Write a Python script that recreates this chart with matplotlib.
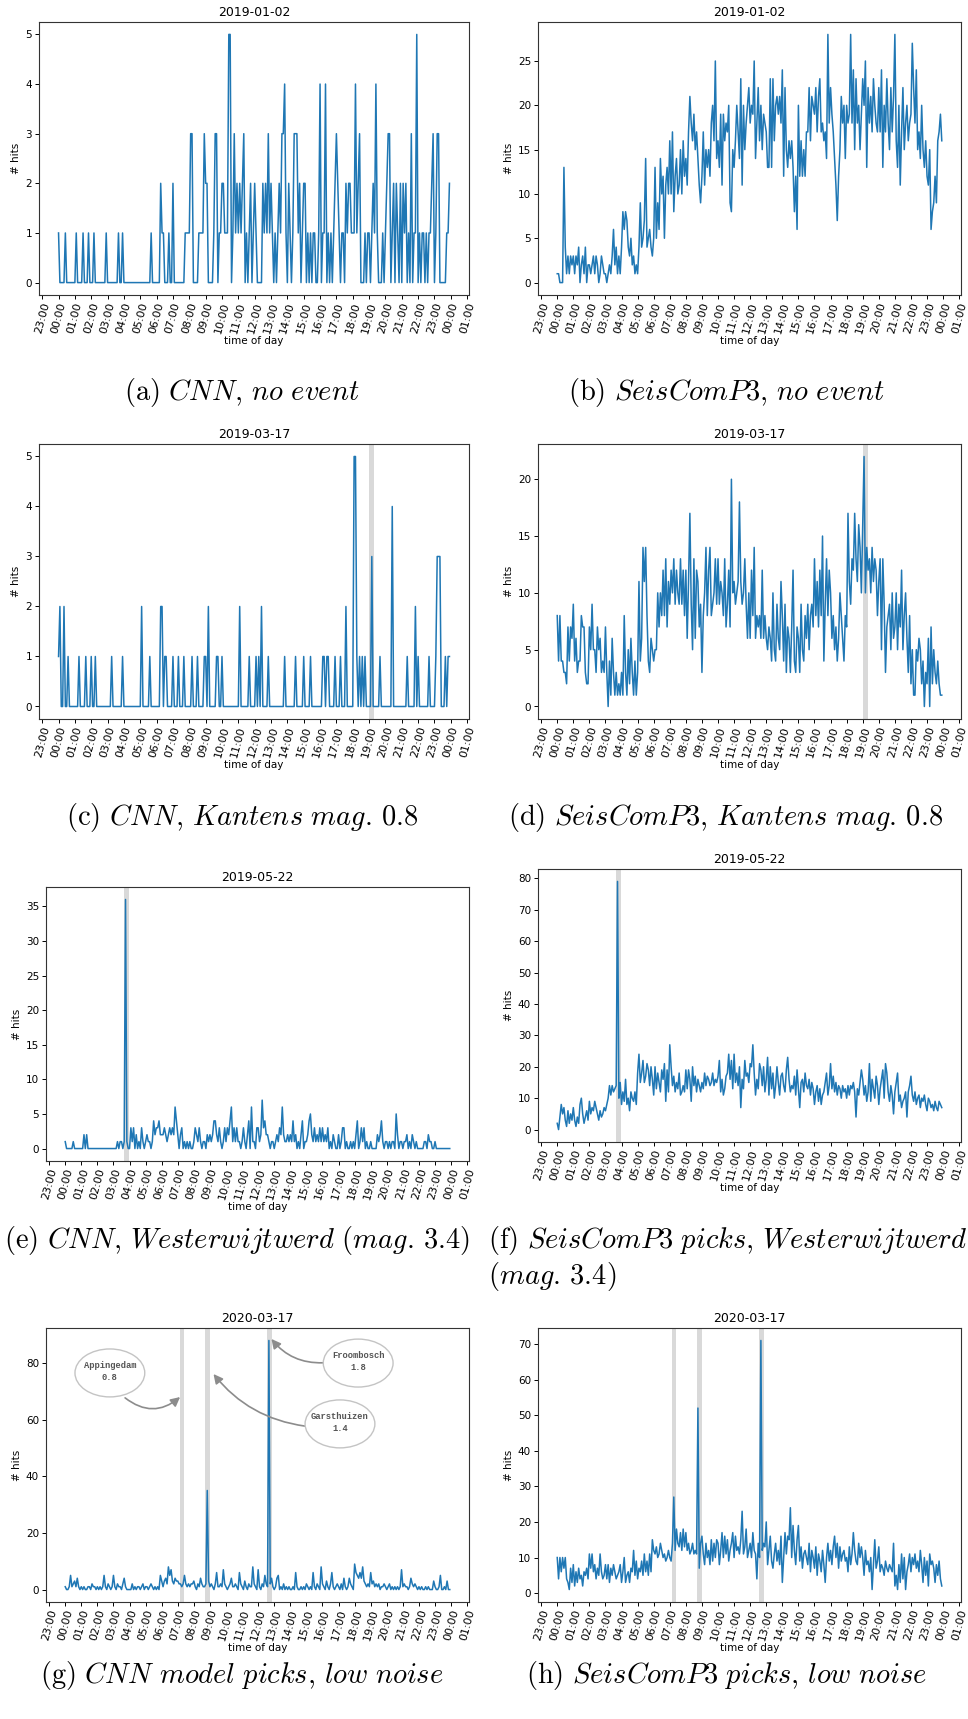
import matplotlib
matplotlib.use('Agg')
import matplotlib.pyplot as plt
import matplotlib.dates as mdates
from matplotlib.patches import Ellipse
import pandas as pd

plt.rcParams['mathtext.fontset'] = 'cm'

# ---------------------------------------------------------------- data
# number of picks per 5-minute bin, one row of 12 bins per hour
cnn_2019_01_02 = [
    1,0,0,0,0,1,0,0,0,0,0,0,
    0,1,0,0,0,0,1,0,0,0,1,0,
    0,0,1,0,0,0,0,0,0,0,0,1,
    0,0,0,0,0,0,0,0,1,0,0,1,
    0,0,0,0,0,0,0,0,0,0,0,0,
    0,0,0,0,0,0,0,0,1,0,0,0,
    0,0,0,2,1,1,0,0,0,1,0,0,
    2,0,0,0,0,0,0,0,0,1,1,1,
    1,3,3,0,0,0,0,1,1,1,1,3,
    2,2,0,0,0,0,1,3,3,0,1,1,
    2,2,1,1,1,5,5,0,1,3,1,2,
    1,2,1,2,3,0,1,0,1,2,0,1,
    2,1,0,0,0,0,2,1,2,1,3,1,
    2,1,0,1,0,1,2,1,3,3,4,1,
    0,2,1,0,1,3,3,3,1,2,0,1,
    2,2,0,1,0,1,0,1,1,0,0,1,
    4,0,1,1,4,0,1,0,1,0,1,2,
    3,2,1,0,1,1,0,2,1,2,2,1,
    1,1,4,1,2,3,0,0,0,1,0,1,
    1,0,1,2,1,4,1,0,0,0,1,0,
    1,2,3,3,0,1,2,0,2,1,0,2,
    0,2,1,2,0,1,0,3,0,1,1,5,
    0,1,0,1,1,0,1,0,1,1,2,3,
    0,1,3,3,0,0,0,0,0,1,1,2,
]
scp_2019_01_02 = [
    1,1,0,0,0,13,4,1,3,1,3,2,
    3,1,3,2,4,0,2,3,1,4,0,2,
    2,1,2,3,1,3,2,0,1,3,2,1,
    1,0,1,2,1,3,6,2,4,1,3,1,
    4,8,6,8,7,4,3,5,2,3,1,2,
    1,4,9,4,5,7,14,4,5,6,4,3,
    5,13,5,9,6,14,10,12,5,11,13,10,
    16,10,17,8,12,14,10,11,15,10,16,12,
    14,11,17,21,18,16,19,15,17,14,11,9,
    12,17,11,15,13,15,12,18,20,16,25,14,
    16,13,19,11,19,16,18,17,20,9,8,15,
    13,16,20,17,14,23,11,20,15,18,20,22,
    18,20,19,25,14,18,22,16,20,15,19,18,
    17,13,13,23,13,23,16,20,21,19,21,18,
    24,12,22,15,13,16,14,16,13,8,12,6,
    20,12,16,12,15,12,17,17,22,16,21,20,
    19,22,17,21,23,17,18,16,17,14,28,18,
    22,19,17,14,11,7,12,15,21,18,20,14,
    20,18,19,28,18,24,15,23,18,20,15,19,
    23,20,25,13,22,18,21,17,23,20,18,17,
    22,17,24,13,20,17,23,18,15,22,17,21,
    28,16,13,20,11,17,22,15,18,20,16,18,
    19,27,22,18,24,15,17,14,20,15,13,16,
    12,11,15,6,8,9,12,9,16,17,19,16,
]
cnn_2019_03_17 = [
    1,2,0,0,2,0,0,1,0,0,0,0,
    0,0,0,1,0,0,0,0,1,0,0,0,
    1,0,0,1,0,0,0,0,0,0,0,0,
    0,0,0,1,0,0,0,0,0,0,0,1,
    0,0,0,0,0,0,0,0,0,0,0,0,
    0,2,0,0,0,0,0,1,0,0,0,0,
    0,0,0,2,2,0,1,1,0,0,0,0,
    1,0,0,0,1,0,0,0,1,0,0,0,
    0,0,1,0,0,0,1,0,0,0,0,1,
    1,0,2,0,0,0,0,0,1,1,0,0,
    1,0,0,0,0,0,0,0,0,0,0,0,
    0,2,0,0,0,0,0,0,1,0,0,0,
    0,1,0,1,0,2,0,0,0,0,1,0,
    0,0,0,0,0,0,0,0,0,0,1,0,
    0,0,0,0,0,0,1,0,0,0,0,0,
    1,0,0,0,0,1,0,0,0,0,0,0,
    0,0,1,1,0,1,1,0,0,0,0,1,
    0,0,0,1,0,0,0,2,0,0,0,0,
    0,5,5,1,0,1,0,1,0,1,0,0,
    0,0,3,0,0,0,0,0,1,0,0,0,
    0,0,0,0,0,4,0,0,0,0,0,0,
    0,0,0,0,1,0,0,0,0,0,2,0,
    1,0,0,0,0,0,0,0,1,0,0,0,
    0,1,3,3,3,0,0,0,1,0,1,1,
]
scp_2019_03_17 = [
    8,4,8,4,4,3,3,2,7,4,7,6,
    9,4,6,3,4,4,8,7,7,3,2,2,
    7,5,9,5,5,3,7,5,6,3,4,3,
    7,3,0,4,1,6,3,1,3,1,2,1,
    3,1,8,3,1,5,2,6,3,1,4,1,
    3,11,4,6,14,11,14,8,4,3,6,5,
    4,5,5,10,7,10,8,12,8,13,7,11,
    9,12,10,13,9,12,10,9,13,9,12,8,
    12,6,11,17,9,5,13,6,12,11,7,9,
    3,8,10,14,8,12,14,8,9,10,13,9,
    13,9,11,10,8,13,7,9,12,7,20,10,
    11,9,10,11,18,11,9,10,13,9,6,10,
    6,12,8,14,6,8,7,8,6,12,6,8,
    6,5,7,6,4,10,5,4,9,6,5,11,
    8,4,9,3,7,6,3,7,12,4,3,7,
    6,3,9,5,4,8,6,9,5,8,9,7,
    13,8,11,7,12,8,15,4,9,13,8,12,
    10,6,8,5,7,4,6,10,8,6,4,8,
    7,17,11,9,13,12,17,13,11,16,14,10,
    16,22,10,14,12,13,10,14,11,13,12,8,
    11,13,5,13,9,3,7,8,9,5,10,6,
    7,10,5,9,7,12,5,8,10,6,3,8,
    2,5,1,1,5,4,6,5,2,4,0,3,
    2,6,0,7,2,5,3,2,4,2,1,1,
]
cnn_2019_05_22 = [
    1,0,0,0,0,0,1,0,0,0,0,0,
    0,0,2,0,2,0,0,0,0,0,0,0,
    0,0,0,0,0,0,0,0,0,0,0,0,
    0,0,0,1,0,1,1,0,1,36,1,0,
    0,3,1,3,0,2,0,1,0,3,1,0,
    1,2,1,1,0,1,4,2,3,3,4,2,
    2,2,3,2,1,2,3,2,3,2,6,4,
    2,0,2,3,0,1,0,1,0,1,0,0,
    1,3,2,1,3,1,0,1,1,0,2,1,
    2,1,2,4,4,2,1,3,1,0,1,3,
    1,3,2,4,6,1,3,1,3,1,1,0,
    1,3,1,0,2,4,0,6,1,1,0,3,
    3,1,2,7,3,4,2,2,1,0,1,1,
    0,1,2,1,3,2,6,2,1,1,2,1,
    2,1,4,1,2,0,1,0,2,4,0,1,
    1,2,4,5,2,1,3,1,2,1,3,1,
    3,1,2,1,3,0,1,0,2,1,0,0,
    2,0,1,3,3,0,1,0,0,1,0,1,
    0,2,4,0,1,3,1,3,0,1,0,0,
    1,0,0,0,0,2,1,2,4,1,0,1,
    1,0,1,0,1,1,0,5,2,0,1,1,
    0,1,1,2,0,1,0,2,1,0,1,0,
    0,0,0,0,1,1,0,2,1,1,0,0,
    1,0,0,0,0,0,0,0,0,0,0,0,
]
scp_2019_05_22 = [
    2,0,4,8,5,7,3,1,6,2,5,3,
    7,3,1,4,2,8,10,5,2,4,6,3,
    9,5,7,6,9,7,5,3,6,4,5,7,
    6,8,10,14,11,14,12,13,14,79,10,15,
    8,12,9,16,8,10,6,12,10,9,12,8,
    18,24,15,18,22,15,17,21,19,14,20,16,
    11,20,13,18,15,12,19,16,21,9,19,12,
    27,20,14,17,12,15,13,18,11,12,14,12,
    19,13,19,16,9,20,14,17,12,16,14,12,
    15,13,18,14,17,16,14,15,18,14,16,15,
    17,22,12,16,11,13,17,18,24,16,22,13,
    24,15,18,14,20,7,16,13,22,17,18,15,
    21,20,27,18,11,16,13,21,19,14,20,12,
    16,23,11,20,13,18,10,14,20,15,11,17,
    18,14,12,19,23,16,12,14,13,17,11,19,
    13,7,15,16,12,18,14,13,16,11,15,13,
    8,12,14,9,13,8,11,12,15,18,11,14,
    21,13,17,12,15,11,14,13,10,14,12,13,
    10,14,11,14,13,15,12,4,13,11,15,19,
    16,11,14,9,12,21,9,16,13,10,17,14,
    8,13,16,19,10,21,18,12,9,14,11,5,
    12,15,18,9,11,7,9,10,12,4,12,14,
    17,11,9,12,8,10,11,7,10,9,11,8,
    6,10,9,7,8,6,9,7,6,9,8,7,
]
cnn_2020_03_17 = [
    1,0,0,1,5,1,2,3,1,4,1,0,
    1,0,1,0,0,1,1,0,2,1,1,0,
    1,0,1,0,1,5,1,0,2,1,0,1,
    5,1,0,2,1,1,0,2,4,1,0,0,
    0,0,2,0,1,0,1,1,0,1,2,0,
    1,1,0,1,2,1,0,1,0,1,0,5,
    3,1,3,4,2,8,5,7,3,2,4,3,
    3,2,2,1,2,5,2,1,2,1,2,2,
    3,1,0,2,1,4,2,1,1,2,35,3,
    1,2,1,0,2,6,1,1,2,1,7,2,
    1,0,1,2,4,1,1,2,1,0,6,2,
    1,0,3,1,0,2,1,1,8,2,1,0,
    7,1,0,2,1,5,2,1,88,2,4,1,
    0,1,4,5,0,1,0,2,0,1,0,1,
    0,0,1,0,6,1,0,0,1,0,1,0,
    2,1,0,1,0,6,1,0,2,1,0,8,
    2,1,0,3,1,0,2,6,1,0,1,2,
    1,0,2,0,4,1,0,1,4,2,1,0,
    9,6,5,4,6,4,8,3,2,1,2,1,
    6,2,3,1,2,1,2,0,1,1,2,1,
    0,1,2,0,1,0,1,0,1,0,1,7,
    1,2,1,1,0,1,4,2,1,2,1,0,
    1,0,1,0,0,1,0,1,0,0,0,3,
    1,0,0,1,5,0,0,1,0,3,0,0,
]
scp_2020_03_17 = [
    10,4,10,6,10,7,10,4,3,1,7,3,
    8,2,6,3,7,4,5,2,6,5,7,4,
    11,7,11,6,8,4,7,5,11,6,4,5,
    8,4,8,3,7,5,8,6,4,5,6,8,
    3,6,10,3,5,6,3,7,6,12,5,9,
    4,7,6,9,5,11,6,9,5,11,6,15,
    12,11,13,10,11,14,12,10,11,9,10,12,
    10,9,14,27,12,18,14,13,17,12,18,13,
    17,12,14,11,12,14,11,12,11,52,7,14,
    16,11,8,14,10,12,8,15,9,14,10,15,
    14,8,12,17,10,16,11,15,9,12,14,17,
    10,16,12,13,11,15,23,11,13,18,10,12,
    14,10,17,12,11,4,14,10,71,12,14,13,
    20,8,12,16,9,7,11,14,9,12,8,16,
    3,10,17,11,16,15,24,10,19,12,8,15,
    19,9,13,7,11,12,10,8,14,6,12,10,
    7,13,5,11,9,6,12,8,3,10,14,9,
    12,8,13,16,10,14,7,13,9,11,12,9,
    10,6,13,8,11,17,12,9,8,14,10,13,
    10,5,12,8,9,6,10,1,8,15,7,9,
    13,6,8,7,5,9,7,6,8,7,6,14,
    2,5,1,8,3,11,4,10,1,6,8,11,
    6,10,8,11,7,9,6,12,8,3,10,5,
    9,2,11,8,9,7,3,8,5,9,4,2,
]

# dates, events (time of day) and sub-captions
days = ['2019-01-02', '2019-01-02', '2019-03-17', '2019-03-17',
        '2019-05-22', '2019-05-22', '2020-03-17', '2020-03-17']
series = [cnn_2019_01_02, scp_2019_01_02, cnn_2019_03_17, scp_2019_03_17,
          cnn_2019_05_22, scp_2019_05_22, cnn_2020_03_17, scp_2020_03_17]
events = [[], [], ['19:10'], ['19:10'], ['03:48'], ['03:48'],
          ['07:16', '08:52', '12:42'], ['07:16', '08:52', '12:42']]
quake_names = ['Appingedam', 'Garsthuizen', 'Froombosch']
quake_mags = ['0.8', '1.4', '1.8']
captions = [
    r'$\mathrm{(a)}\ \mathit{CNN,\,no\ event}$',
    r'$\mathrm{(b)}\ \mathit{SeisComP3,\,no\ event}$',
    r'$\mathrm{(c)}\ \mathit{CNN,\,Kantens\ mag.\,0.8}$',
    r'$\mathrm{(d)}\ \mathit{SeisComP3,\,Kantens\ mag.\,0.8}$',
    r'$\mathrm{(e)}\ \mathit{CNN,\,Westerwijtwerd\ (mag.\,3.4)}$',
    r'$\mathrm{(f)}\ \mathit{SeisComP3\ picks,\,Westerwijtwerd}$',
    r'$\mathrm{(g)}\ \mathit{CNN\ model\ picks,\,low\ noise}$',
    r'$\mathrm{(h)}\ \mathit{SeisComP3\ picks,\,low\ noise}$',
]
caption_f_cont = r'$\mathit{(mag.\,3.4)}$'

# ---------------------------------------------------------------- layout
W, H = 968, 1719
fig = plt.figure(figsize=(W / 100, H / 100), dpi=100)


def rect(l, r, t, b):
    return [l / W, 1 - b / H, (r - l) / W, (b - t) / H]


boxes = [rect(39, 469, 22, 295), rect(538, 961, 22, 295),
         rect(39, 469, 444, 719), rect(538, 961, 444, 719),
         rect(46, 469, 887, 1161), rect(538, 961, 869, 1142),
         rect(46, 469, 1328, 1602), rect(538, 961, 1328, 1602)]

line_color = '#1f77b4'
span_color = '#d9d9d9'
half_span = pd.Timedelta(minutes=9)

axes = []
for day, vals, evs, box in zip(days, series, events, boxes):
    ax = fig.add_axes(box)
    t = pd.date_range(day + ' 00:00', periods=len(vals), freq='5min')
    ax.plot(t, vals, color=line_color, lw=1.1, zorder=2)
    for ev in evs:
        tc = pd.Timestamp(day + ' ' + ev)
        ax.axvspan(tc - half_span, tc + half_span, color=span_color,
                   lw=0, zorder=1)
    ax.xaxis.set_major_locator(mdates.HourLocator())
    ax.xaxis.set_major_formatter(mdates.DateFormatter('%H:%M'))
    ax.tick_params(axis='x', labelsize=8, rotation=75, length=3, width=0.7,
                   pad=1.5)
    ax.tick_params(axis='y', labelsize=7.5, length=3, width=0.7, pad=2)
    ax.set_title(day, fontsize=9, pad=4)
    ax.set_ylabel('# hits', fontsize=7.5, labelpad=3)
    ax.set_xlabel('time of day', fontsize=7.5, labelpad=1)
    for s in ax.spines.values():
        s.set_linewidth(0.8)
        s.set_color('#333333')
    axes.append(ax)

# annotated events in the 2020-03-17 CNN panel
axg = axes[6]
bubble_centres = [(0.151, 0.836), (0.695, 0.650), (0.738, 0.872)]
arrow_paths = [((0.187, 0.745), (0.317, 0.748), 0.4),
               ((0.612, 0.642), (0.396, 0.832), -0.2),
               ((0.655, 0.873), (0.533, 0.960), -0.25)]
for (cx, cy), name, mag in zip(bubble_centres, quake_names, quake_mags):
    axg.add_patch(Ellipse((cx, cy), 0.165, 0.175, transform=axg.transAxes,
                          facecolor='white', edgecolor='#c4c4c4', lw=1.0,
                          zorder=5))
    axg.text(cx, cy + 0.005, name + '\n' + mag, transform=axg.transAxes,
             ha='center', va='center', family='Liberation Mono',
             fontsize=6.3, color='#555555', zorder=6, linespacing=1.5,
             fontweight='bold')
for start, end, rad in arrow_paths:
    axg.annotate('', xy=end, xycoords='axes fraction', xytext=start,
                 textcoords='axes fraction', zorder=4,
                 arrowprops=dict(arrowstyle='-|>,head_length=0.55,head_width=0.28',
                                 connectionstyle='arc3,rad=%s' % rad,
                                 color='#8c8c8c', lw=1.2,
                                 shrinkA=0, shrinkB=0))

# sub-captions
cap_size = 20.5
cap_pos = [(242, 392, 'center'), (726, 392, 'center'),
           (242, 817, 'center'), (726, 817, 'center'),
           (237, 1240, 'center'), (488, 1240, 'left'),
           (242, 1675, 'center'), (726, 1675, 'center')]
for text, (x, y, ha) in zip(captions, cap_pos):
    fig.text(x / W, 1 - y / H, text, ha=ha, va='center', fontsize=cap_size)
fig.text(488 / W, 1 - 1276 / H, caption_f_cont, ha='left', va='center',
         fontsize=cap_size)

fig.savefig('out.png', dpi=100)
